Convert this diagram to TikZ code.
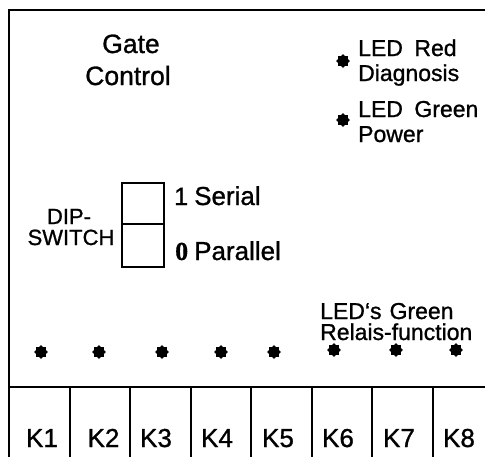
\documentclass[tikz,border=0pt]{standalone}
\usepackage{fontspec}
\setmainfont{Liberation Sans}[FakeBold=1]
\newfontfamily\serifbold{Liberation Serif}[FakeBold=0.5]
\usetikzlibrary{shapes.geometric}
\begin{document}
\begin{tikzpicture}[x=1pt,y=-1pt,
  frame/.style={line width=2.2pt},
  divider/.style={line width=2pt},
  lbl/.style={inner sep=0pt, anchor=base west},
  clbl/.style={inner sep=0pt, anchor=base},
  led/.style={star, star points=8, star point ratio=1.35, fill=black, draw=none, inner sep=0pt, minimum size=14pt},
]
\fill[white] (0,0) rectangle (485,456);
\useasboundingbox (0,0) rectangle (485,456);
% frame
\coordinate (tl) at (9,10);
\coordinate (tr) at (492,10);
\coordinate (bl) at (9,460);
\draw[frame] (tr) -- (tl) -- (bl);
% terminal strip
\coordinate (hl) at (9,387);
\coordinate (hr) at (492,387);
\draw[divider] (hl) -- (hr);
\foreach \x in {69.5,130,190.5,251,311.5,372,432.5}{
  \draw[divider] (\x,387) -- (\x,460);
}
\foreach \x/\n in {42/1,103.5/2,156/3,217/4,278/5,338/6,399/7,459/8}{
  \node[clbl, font=\fontsize{26}{31}\selectfont] (k\n) at (\x,447) {K\n};
}
% title
\node[clbl, font=\fontsize{26.5}{31}\selectfont] (gate) at (131,53) {Gate};
\node[clbl, font=\fontsize{26.5}{31}\selectfont] (control) at (128,85) {Control};
% top LEDs
\node[led] (ledred) at (343,61) {};
\node[led] (ledgreen) at (343,120) {};
\node[lbl, font=\fontsize{23}{27}\selectfont] (t1) at (358,56) {LED\hspace{0.5em}Red};
\node[lbl, font=\fontsize{23}{27}\selectfont] (t2) at (358,81) {Diagnosis};
\node[lbl, font=\fontsize{23}{27}\selectfont] (t3) at (358,117) {LED\hspace{0.5em}Green};
\node[lbl, font=\fontsize{23}{27}\selectfont] (t4) at (358,142) {Power};
% DIP switch
\draw[divider] (122,183) rectangle (164,224);
\draw[divider] (122,224) rectangle (164,267);
\node[clbl, font=\fontsize{22}{26}\selectfont] (dip) at (69,224) {DIP-};
\node[clbl, font=\fontsize{22}{26}\selectfont] (switch) at (71,245) {SWITCH};
\node[lbl, font=\fontsize{25}{29}\selectfont] (one) at (174,205) {1};
\node[lbl, font=\fontsize{26}{30}\selectfont] (serial) at (194,205) {Serial};
\node[lbl, font=\serifbold\bfseries\fontsize{26}{30}\selectfont] (zero) at (175,260) {0};
\node[lbl, font=\fontsize{26}{30}\selectfont] (parallel) at (194,260) {Parallel};
% relay LEDs
\node[lbl, font=\fontsize{23}{27}\selectfont] (r1) at (320,319) {LED‘s\hspace{0.35em}Green};
\node[lbl, font=\fontsize{23}{27}\selectfont] (r2) at (320,340) {Relais-function};
\foreach \x/\y/\n in {41/352/1,99/352/2,162/352/3,221/352/4,274/352/5,334/350/6,396/350/7,456/350/8}{
  \node[led] (l\n) at (\x,\y) {};
}
\end{tikzpicture}
\end{document}
